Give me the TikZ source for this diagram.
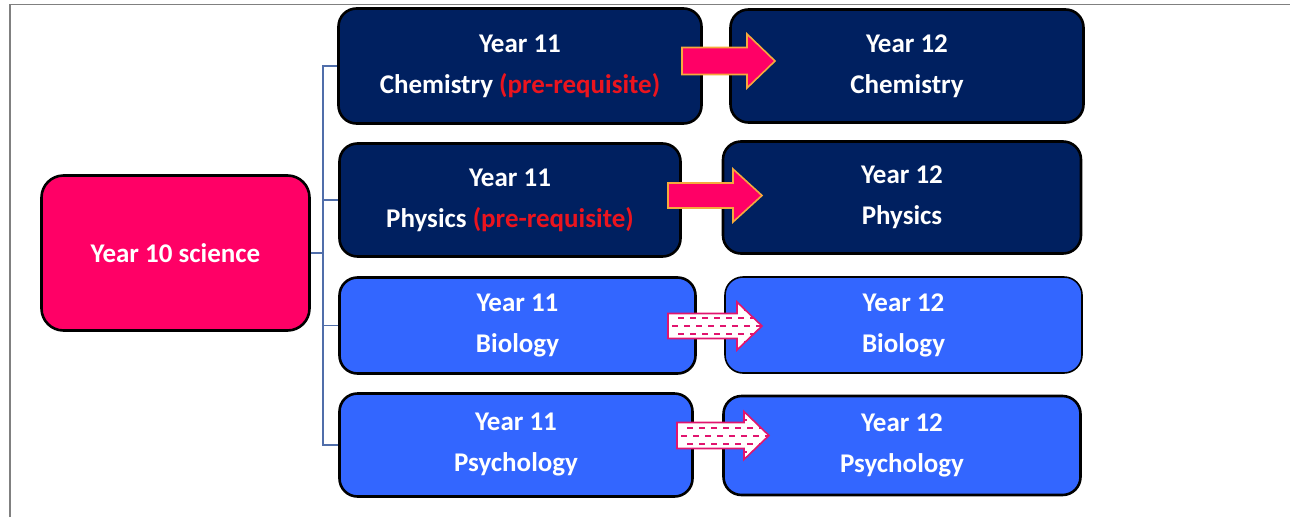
\documentclass[tikz,border=0pt]{standalone}
\usepackage{fontspec}
\setmainfont{Carlito}
\definecolor{navy}{RGB}{0,32,96}
\definecolor{bblue}{RGB}{51,102,255}
\definecolor{hot}{RGB}{255,0,102}
\definecolor{pre}{RGB}{235,20,30}
\definecolor{gold}{RGB}{245,170,60}
\definecolor{trunkc}{RGB}{80,110,170}
\definecolor{pinkline}{RGB}{225,20,110}
\newcommand{\arrowpath}[6]{(#1,#4-#5) -- (#3,#4-#5) -- (#3,#4-#6) -- (#2,#4) -- (#3,#4+#6) -- (#3,#4+#5) -- (#1,#4+#5) -- cycle}
\begin{document}
\begin{tikzpicture}[x=1pt,y=-1pt,
  box/.style={draw=black,line width=2.6pt,rounded corners=18pt,text=white,
    font=\fontsize{27}{41}\selectfont\bfseries,align=center,inner sep=0pt},
  dark/.style={box,fill=navy},
  light/.style={box,fill=bblue},
  trunkline/.style={draw=trunkc,line width=1.3pt},
  solidarrow/.style={fill=hot,draw=gold,line width=1.6pt,line join=miter},
  hatcharrow/.style={draw=pinkline,line width=1.6pt,line join=miter},
  hatchline/.style={draw=pinkline,line width=2pt,dash pattern=on 6pt off 6pt}]
\useasboundingbox (0,0) rectangle (1290,517);
\draw[gray,line width=1.3pt] (10,517) -- (10,4.5) -- (1290,4.5);

\node[box,fill=hot,rounded corners=22pt,minimum width=268,minimum height=155] (y10) at (175.5,253) {Year 10 science};

\node[dark,minimum width=363,minimum height=115] (c11) at (520,66) {Year 11\\Chemistry \textcolor{pre}{(pre-requisite)}};
\node[dark,minimum width=353,minimum height=113] (c12) at (907,66) {Year 12\\Chemistry};
\node[dark,minimum width=341,minimum height=113] (p11) at (510,200) {Year 11\\Physics \textcolor{pre}{(pre-requisite)}};
\node[dark,minimum width=358,minimum height=112] (p12) at (902,197.5) {Year 12\\Physics};
\node[light,minimum width=356,minimum height=96] (b11) at (517.5,325.5) {Year 11\\Biology};
\node[light,line width=1.6pt,minimum width=357,minimum height=96] (b12) at (903.5,325) {Year 12\\Biology};
\node[light,minimum width=353,minimum height=103] (s11) at (516,445) {Year 11\\Psychology};
\node[light,minimum width=357,minimum height=99] (s12) at (902,445.5) {Year 12\\Psychology};

\coordinate (t) at (323,253);
\draw[trunkline] (y10.east) -- (t);
\draw[trunkline] (c11.west) -| (t);
\draw[trunkline] (p11.west) -| (t);
\draw[trunkline] (b11.west) -| (t);
\draw[trunkline] (s11.west) -| (t);

% solid block arrows
\path[solidarrow] \arrowpath{682}{775}{747}{61}{13.5}{27};
\path[solidarrow] \arrowpath{668}{762}{733}{195.5}{12.5}{26.5};

% hatched block arrows
\foreach \xa/\xb/\xh/\yc/\bh/\hh in {668/762/737/326/12.5/24, 677/769/744/435.5/13/24}{
  \fill[white] \arrowpath{\xa}{\xb}{\xh}{\yc}{\bh}{\hh};
  \begin{scope}
    \clip \arrowpath{\xa}{\xb}{\xh}{\yc}{\bh}{\hh};
    \foreach \k in {-2,...,2}{
      \pgfmathsetmacro{\ph}{mod(\k+10,2)*6}
      \draw[hatchline,dash phase=\ph pt] (\xa+4,\yc+\k*8) -- (\xb,\yc+\k*8);
    }
  \end{scope}
  \path[hatcharrow] \arrowpath{\xa}{\xb}{\xh}{\yc}{\bh}{\hh};
}
\end{tikzpicture}
\end{document}
